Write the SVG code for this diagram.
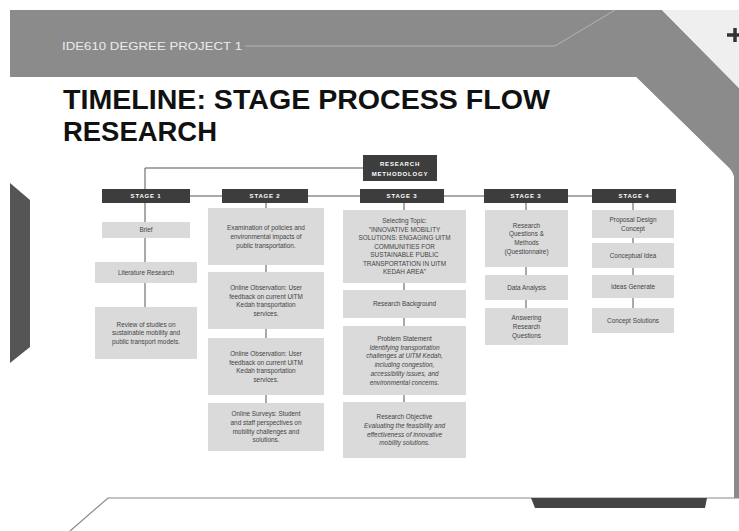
<svg xmlns="http://www.w3.org/2000/svg" width="739" height="531" viewBox="0 0 739 531">
<style>
.hdr{fill:#3d3d3d}
.hl{font-family:"Liberation Sans",Arial,sans-serif;font-size:6px;font-weight:bold;fill:#fff;text-anchor:middle;letter-spacing:0.8px}
.bx{fill:#dadada}
.t{font-family:"Liberation Sans",Arial,sans-serif;font-size:6.4px;fill:#444;text-anchor:middle}
.i{font-style:italic}
.cn{stroke:#555;stroke-width:1;fill:none}
</style>
<rect width="739" height="531" fill="#fff"/>
<!-- background band -->
<path d="M10,10 H662 L739,88 V498 H734 V180 Q734,173 729,168 L636,77 H10 Z" fill="#8b8b8b"/>
<polygon points="662,10 739,10 739,88" fill="#efefef"/>
<path d="M10,77 H636 L729,168 Q734,173 734,180 V498 H10 Z" fill="#fff"/>
<path d="M245,46 H555 L615,10" stroke="#b4b4b4" stroke-width="1" fill="none"/>
<text x="62" y="50" font-family="'Liberation Sans',Arial,sans-serif" font-size="11" fill="#ececec" textLength="180" lengthAdjust="spacingAndGlyphs">IDE610 DEGREE PROJECT 1</text>
<path d="M727,35 H739 M735,28 V42" stroke="#333" stroke-width="3.5"/>
<polygon points="10,183 30,200 30,347 10,363" fill="#555"/>
<!-- bottom -->
<path d="M70,531 L108,498 H739" stroke="#8a8a8a" stroke-width="1.2" fill="none"/>
<polygon points="531,498 707,498 705,508 535,508" fill="#444"/>
<!-- title -->
<text x="63" y="109" font-family="'Liberation Sans',Arial,sans-serif" font-size="27" font-weight="bold" fill="#111" textLength="487" lengthAdjust="spacingAndGlyphs">TIMELINE: STAGE PROCESS FLOW</text>
<text x="63" y="141" font-family="'Liberation Sans',Arial,sans-serif" font-size="27" font-weight="bold" fill="#111" textLength="154" lengthAdjust="spacingAndGlyphs">RESEARCH</text>
<!-- connectors -->
<g id="connectors">
<path class="cn" d="M363,168 H145 V189"/>
<path class="cn" d="M190,196 H592"/>
<path class="cn" d="M145,203 V307"/>
<path class="cn" d="M266,203 V208 M266,265 V272 M266,329 V338 M266,395 V403"/>
<path class="cn" d="M404,203 V210 M404,283 V290 M404,318 V326 M404,395 V402"/>
<path class="cn" d="M526,203 V210 M526,267 V275 M526,300 V308"/>
<path class="cn" d="M633,203 V210 M633,238 V243 M633,268 V275 M633,298 V308"/>
</g>
<g id="research-methodology">
<rect class="hdr" x="363" y="155" width="74" height="26"/>
<text class="hl" x="400" y="166">RESEARCH</text>
<text class="hl" x="400" y="175.5">METHODOLOGY</text>
</g>
<g id="stage1">
<rect class="hdr" x="102" y="189" width="88" height="14"/>
<text class="hl" x="146" y="198.2">STAGE 1</text>
</g>
<g id="stage2">
<rect class="hdr" x="222" y="189" width="86" height="14"/>
<text class="hl" x="265" y="198.2">STAGE 2</text>
</g>
<g id="stage3">
<rect class="hdr" x="360" y="189" width="84" height="14"/>
<text class="hl" x="402" y="198.2">STAGE 3</text>
</g>
<g id="stage3b">
<rect class="hdr" x="484" y="189" width="84" height="14"/>
<text class="hl" x="526" y="198.2">STAGE 3</text>
</g>
<g id="stage4">
<rect class="hdr" x="592" y="189" width="84" height="14"/>
<text class="hl" x="634" y="198.2">STAGE 4</text>
</g>
<!-- stage 1 -->
<g id="s1-brief"><rect class="bx" x="102" y="222" width="88" height="16"/><text class="t" x="146" y="232.3">Brief</text></g>
<g id="s1-lit"><rect class="bx" x="95" y="262" width="102" height="21"/><text class="t" x="146" y="274.8">Literature Research</text></g>
<g id="s1-review"><rect class="bx" x="95" y="307" width="102" height="52"/>
<text class="t" x="146" y="326.6">Review of studies on</text>
<text class="t" x="146" y="335.3">sustainable mobility and</text>
<text class="t" x="146" y="344">public transport models.</text></g>
<!-- stage 2 -->
<g id="s2-exam"><rect class="bx" x="208" y="208" width="116" height="57"/>
<text class="t" x="266" y="230.1">Examination of policies and</text>
<text class="t" x="266" y="238.8">environmental impacts of</text>
<text class="t" x="266" y="247.5">public transportation.</text></g>
<g id="s2-obs1"><rect class="bx" x="208" y="272" width="116" height="57"/>
<text class="t" x="266" y="289.8">Online Observation: User</text>
<text class="t" x="266" y="298.5">feedback on current UiTM</text>
<text class="t" x="266" y="307.2">Kedah transportation</text>
<text class="t" x="266" y="315.9">services.</text></g>
<g id="s2-obs2"><rect class="bx" x="208" y="338" width="116" height="57"/>
<text class="t" x="266" y="355.8">Online Observation: User</text>
<text class="t" x="266" y="364.5">feedback on current UiTM</text>
<text class="t" x="266" y="373.2">Kedah transportation</text>
<text class="t" x="266" y="381.9">services.</text></g>
<g id="s2-survey"><rect class="bx" x="208" y="403" width="116" height="48"/>
<text class="t" x="266" y="416.3">Online Surveys: Student</text>
<text class="t" x="266" y="425">and staff perspectives on</text>
<text class="t" x="266" y="433.7">mobility challenges and</text>
<text class="t" x="266" y="442.4">solutions.</text></g>
<!-- stage 3 -->
<g id="s3-topic"><rect class="bx" x="343" y="210" width="123" height="73"/>
<text class="t" x="404.5" y="223.3">Selecting Topic:</text>
<text class="t" x="404.5" y="231.8">"INNOVATIVE MOBILITY</text>
<text class="t" x="404.5" y="240.3">SOLUTIONS: ENGAGING UiTM</text>
<text class="t" x="404.5" y="248.8">COMMUNITIES FOR</text>
<text class="t" x="404.5" y="257.3">SUSTAINABLE PUBLIC</text>
<text class="t" x="404.5" y="265.8">TRANSPORTATION IN UiTM</text>
<text class="t" x="404.5" y="274.3">KEDAH AREA"</text></g>
<g id="s3-bg"><rect class="bx" x="343" y="290" width="123" height="28"/><text class="t" x="404.5" y="306.3">Research Background</text></g>
<g id="s3-problem"><rect class="bx" x="343" y="326" width="123" height="69"/>
<text class="t" x="404.5" y="341">Problem Statement</text>
<text class="t i" x="404.5" y="349.7">Identifying transportation</text>
<text class="t i" x="404.5" y="358.4">challenges at UiTM Kedah,</text>
<text class="t i" x="404.5" y="367.1">including congestion,</text>
<text class="t i" x="404.5" y="375.8">accessibility issues, and</text>
<text class="t i" x="404.5" y="384.5">environmental concerns.</text></g>
<g id="s3-objective"><rect class="bx" x="343" y="402" width="123" height="56"/>
<text class="t" x="404.5" y="419.2">Research Objective</text>
<text class="t i" x="404.5" y="427.9">Evaluating the feasibility and</text>
<text class="t i" x="404.5" y="436.6">effectiveness of innovative</text>
<text class="t i" x="404.5" y="445.3">mobility solutions.</text></g>
<!-- stage 3b -->
<g id="s3b-questions"><rect class="bx" x="485" y="210" width="83" height="57"/>
<text class="t" x="526.5" y="227.7">Research</text>
<text class="t" x="526.5" y="236.4">Questions &amp;</text>
<text class="t" x="526.5" y="245.1">Methods</text>
<text class="t" x="526.5" y="253.8">(Questionnaire)</text></g>
<g id="s3b-data"><rect class="bx" x="485" y="275" width="83" height="25"/><text class="t" x="526.5" y="289.8">Data Analysis</text></g>
<g id="s3b-answer"><rect class="bx" x="485" y="308" width="83" height="37"/>
<text class="t" x="526.5" y="320.1">Answering</text>
<text class="t" x="526.5" y="328.8">Research</text>
<text class="t" x="526.5" y="337.5">Questions</text></g>
<!-- stage 4 -->
<g id="s4-proposal"><rect class="bx" x="592" y="210" width="82" height="28"/>
<text class="t" x="633" y="222">Proposal Design</text>
<text class="t" x="633" y="230.7">Concept</text></g>
<g id="s4-idea"><rect class="bx" x="592" y="243" width="82" height="25"/><text class="t" x="633" y="257.8">Conceptual Idea</text></g>
<g id="s4-generate"><rect class="bx" x="592" y="275" width="82" height="23"/><text class="t" x="633" y="288.8">Ideas Generate</text></g>
<g id="s4-solutions"><rect class="bx" x="592" y="308" width="82" height="25"/><text class="t" x="633" y="322.8">Concept Solutions</text></g>
</svg>
